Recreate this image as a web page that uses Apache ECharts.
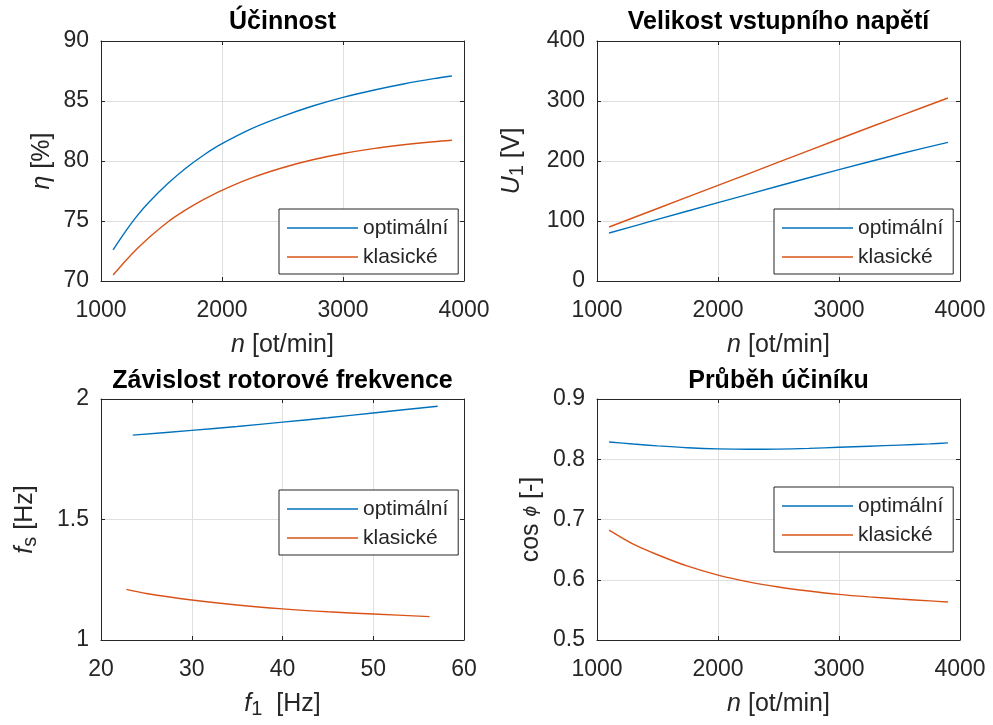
<!DOCTYPE html>
<html>
<head>
<meta charset="utf-8">
<script src="https://cdn.jsdelivr.net/npm/echarts@6/dist/echarts.min.js"></script>
<style>
html,body{margin:0;padding:0;background:#fff;}
#chart{width:993px;height:725px;}
</style>
</head>
<body>
<div id="chart"></div>
<script>
// ---- Data ----
// Účinnost
const nEff     = [1100, 1200, 1300, 1400, 1550, 1700, 1850, 2000, 2250, 2500, 2750, 3000, 3250, 3500, 3750, 3900];
const etaOpt   = [72.6, 74.1, 75.45, 76.6, 78.1, 79.4, 80.5, 81.44, 82.72, 83.72, 84.58, 85.3, 85.9, 86.42, 86.86, 87.08];
const etaKlas  = [70.5, 71.65, 72.7, 73.65, 74.9, 75.92, 76.8, 77.56, 78.61, 79.44, 80.1, 80.62, 81.03, 81.35, 81.61, 81.73];
// Velikost vstupního napětí
const nU       = [1100, 1500, 2000, 2500, 3000, 3500, 3900];
const uOpt     = [80.0, 102.6, 130.6, 158.3, 185.6, 211.6, 231.0];
const uKlas    = [90.0, 120.8, 159.4, 198.0, 236.7, 274.8, 305.0];
// Závislost rotorové frekvence
const f1Opt    = [23.5, 30, 35, 40, 45, 50, 57.1];
const fsOpt    = [1.850, 1.870, 1.886, 1.904, 1.922, 1.942, 1.970];
const f1Klas   = [22.8, 25, 30, 35, 40, 45, 50, 56.2];
const fsKlas   = [1.210, 1.193, 1.166, 1.145, 1.129, 1.117, 1.108, 1.097];
// Průběh účiníku
const nCos     = [1100, 1300, 1500, 1750, 2000, 2250, 2500, 2750, 3000, 3250, 3500, 3750, 3900];
const cosOpt   = [0.8287, 0.8252, 0.8222, 0.8192, 0.8173, 0.8166, 0.8168, 0.8180, 0.8199, 0.8216, 0.8235, 0.8255, 0.8271];
const cosKlas  = [0.6823, 0.6590, 0.6415, 0.6225, 0.6077, 0.5965, 0.5880, 0.5813, 0.5757, 0.5715, 0.5680, 0.5650, 0.5630];

const titles = ['Účinnost', 'Velikost vstupního napětí', 'Závislost rotorové frekvence', 'Průběh účiníku'];
const seriesNames = ['optimální', 'klasické'];

// ---- Styling ----
const FONT = "'Liberation Sans', Arial, Helvetica, sans-serif";
const TXT = '#262626';
const BLUE = '#0072BD';
const ORANGE = '#D95319';

const grids = [
  {left: 101, top: 41, width: 363, height: 240},
  {left: 597, top: 41, width: 363, height: 240},
  {left: 101, top: 399, width: 363, height: 241},
  {left: 597, top: 399, width: 363, height: 241}
];

const richStyles = {
  it: {fontStyle: 'italic', fontSize: 25, fontFamily: FONT, color: TXT, lineHeight: 30},
  itphi: {fontStyle: 'italic', fontSize: 19, fontFamily: FONT, color: TXT, lineHeight: 30},
  sub: {fontSize: 20, fontFamily: FONT, color: TXT, lineHeight: 7, verticalAlign: 'bottom'}
};

function nameStyle() {
  return {fontSize: 25, fontFamily: FONT, color: TXT, lineHeight: 30, rich: richStyles};
}

const plainNum = v => String(+v.toFixed(6));

function xAxesFor(gi, min, max, interval, name) {
  return [
    {
      type: 'value', gridIndex: gi, position: 'bottom', min, max, interval,
      name, nameLocation: 'middle', nameGap: 49, nameTextStyle: nameStyle(),
      axisLine: {show: true, onZero: false, lineStyle: {color: TXT, width: 1}},
      axisTick: {show: true, inside: true, length: 4, lineStyle: {color: TXT}},
      axisLabel: {show: true, margin: 18, fontSize: 23, fontFamily: FONT, color: TXT, formatter: plainNum},
      splitLine: {show: true, lineStyle: {color: '#dfdfdf', width: 1}}
    },
    {
      type: 'value', gridIndex: gi, position: 'top', min, max, interval,
      axisLine: {show: true, onZero: false, lineStyle: {color: TXT, width: 1}},
      axisTick: {show: true, inside: true, length: 4, lineStyle: {color: TXT}},
      axisLabel: {show: false},
      splitLine: {show: false}
    }
  ];
}

function yAxesFor(gi, min, max, interval, name, gap) {
  return [
    {
      type: 'value', gridIndex: gi, position: 'left', min, max, interval,
      name, nameLocation: 'middle', nameGap: gap, nameTextStyle: nameStyle(),
      axisLine: {show: true, onZero: false, lineStyle: {color: TXT, width: 1}},
      axisTick: {show: true, inside: true, length: 4, lineStyle: {color: TXT}},
      axisLabel: {show: true, margin: 12, fontSize: 23, fontFamily: FONT, color: TXT, formatter: plainNum},
      splitLine: {show: true, lineStyle: {color: '#dfdfdf', width: 1}}
    },
    {
      type: 'value', gridIndex: gi, position: 'right', min, max, interval,
      axisLine: {show: true, onZero: false, lineStyle: {color: TXT, width: 1}},
      axisTick: {show: true, inside: true, length: 4, lineStyle: {color: TXT}},
      axisLabel: {show: false},
      splitLine: {show: false}
    }
  ];
}

function pairs(xs, ys) { return xs.map((x, i) => [x, ys[i]]); }

function lineSeries(gi, name, color, xs, ys) {
  return {
    type: 'line', name, xAxisIndex: gi * 2, yAxisIndex: gi * 2,
    data: pairs(xs, ys), symbol: 'none', smooth: 0.3,
    lineStyle: {color, width: 1.4}, itemStyle: {color},
    animation: false, z: 3
  };
}

const xAxis = [].concat(
  xAxesFor(0, 1000, 4000, 1000, '{it|n} [ot/min]'),
  xAxesFor(1, 1000, 4000, 1000, '{it|n} [ot/min]'),
  xAxesFor(2, 20, 60, 10, '{it|f}{sub|1}  [Hz]'),
  xAxesFor(3, 1000, 4000, 1000, '{it|n} [ot/min]')
);
const yAxis = [].concat(
  yAxesFor(0, 70, 90, 5, '{it|η} [%]', 44),
  yAxesFor(1, 0, 400, 100, '{it|U}{sub|1} [V]', 70),
  yAxesFor(2, 1, 2, 0.5, '{it|f}{sub|s} [Hz]', 61),
  yAxesFor(3, 0.5, 0.9, 0.1, 'cos {itphi|ϕ} [-]', 51)
);

const series = [
  lineSeries(0, seriesNames[0], BLUE, nEff, etaOpt),
  lineSeries(0, seriesNames[1], ORANGE, nEff, etaKlas),
  lineSeries(1, seriesNames[0], BLUE, nU, uOpt),
  lineSeries(1, seriesNames[1], ORANGE, nU, uKlas),
  lineSeries(2, seriesNames[0], BLUE, f1Opt, fsOpt),
  lineSeries(2, seriesNames[1], ORANGE, f1Klas, fsKlas),
  lineSeries(3, seriesNames[0], BLUE, nCos, cosOpt),
  lineSeries(3, seriesNames[1], ORANGE, nCos, cosKlas)
];

const titleTops = [10, 10, 369, 369];
const title = grids.map((g, i) => ({
  text: titles[i],
  left: g.left + g.width / 2,
  top: titleTops[i],
  textAlign: 'center',
  padding: 0,
  textStyle: {fontSize: 25, fontWeight: 'bold', fontFamily: FONT, color: '#000'}
}));

const legendPos = [
  {left: 279, top: 209},
  {left: 774, top: 209},
  {left: 279, top: 490},
  {left: 774, top: 487}
];
const legend = legendPos.map(p => ({
  left: p.left, top: p.top, orient: 'vertical',
  data: seriesNames,
  icon: 'rect',
  itemWidth: 71, itemHeight: 1.6, itemGap: 5,
  padding: [7, 10, 5, 8],
  backgroundColor: '#fff', borderColor: TXT, borderWidth: 1,
  textStyle: {fontSize: 21, fontFamily: FONT, color: TXT, lineHeight: 24},
  selectedMode: false
}));

const chart = echarts.init(document.getElementById('chart'), null, {renderer: 'canvas'});
chart.setOption({
  backgroundColor: '#fff',
  animation: false,
  title, legend,
  grid: grids,
  xAxis, yAxis, series
});
</script>
</body>
</html>
